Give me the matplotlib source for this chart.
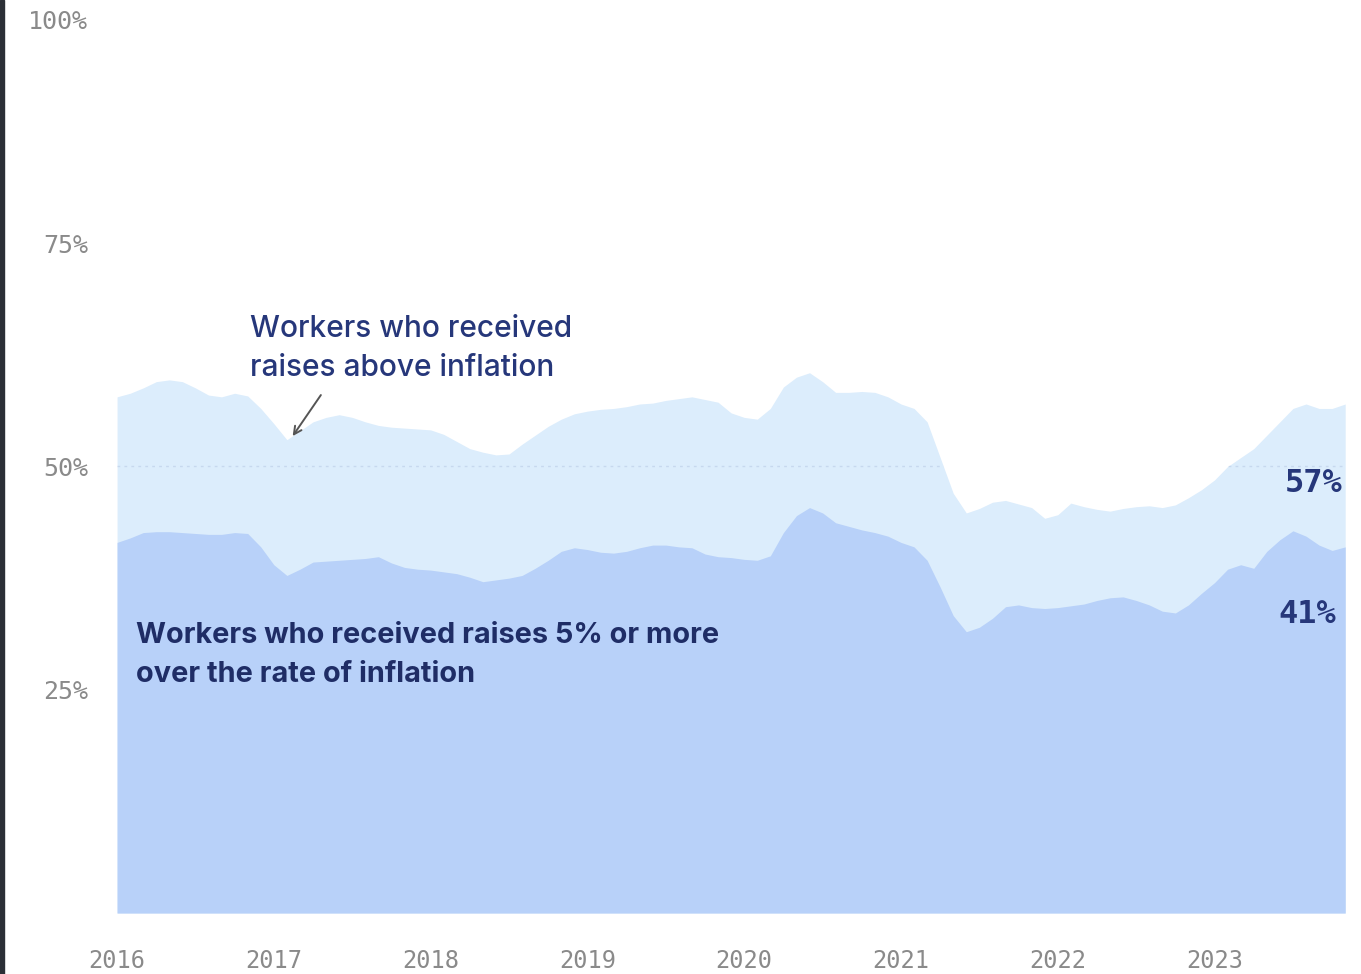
import numpy as np
import matplotlib
matplotlib.use("Agg")
import matplotlib.pyplot as plt
from matplotlib.patches import Rectangle

# Monthly share of workers, Jan 2016 - Nov 2023 (percent)
above_inflation = [
    57.8, 58.2, 58.8, 59.5, 59.7, 59.5, 58.8, 58.0, 57.8, 58.2, 57.9, 56.5,
    54.8, 53.0, 54.0, 55.0, 55.5, 55.8, 55.5, 55.0, 54.6, 54.4, 54.3, 54.2,
    54.1, 53.6, 52.8, 52.0, 51.6, 51.3, 51.4, 52.5, 53.5, 54.5, 55.3, 55.9,
    56.2, 56.4, 56.5, 56.7, 57.0, 57.1, 57.4, 57.6, 57.8, 57.5, 57.2, 56.0,
    55.5, 55.3, 56.5, 58.9, 60.0, 60.5, 59.5, 58.3, 58.3, 58.4, 58.3, 57.8,
    57.0, 56.5, 55.0, 51.0, 47.0, 44.8, 45.3, 46.0, 46.2, 45.8, 45.4, 44.2,
    44.6, 45.9, 45.5, 45.2, 45.0, 45.3, 45.5, 45.6, 45.4, 45.7, 46.5, 47.4,
    48.5, 50.0, 51.0, 52.0, 53.5, 55.0, 56.5, 57.0, 56.5, 56.5, 57.0,
]
five_pct_over = [
    41.5, 42.0, 42.6, 42.7, 42.7, 42.6, 42.5, 42.4, 42.4, 42.6, 42.5, 41.0,
    39.0, 37.8, 38.5, 39.3, 39.4, 39.5, 39.6, 39.7, 39.9, 39.2, 38.7, 38.5,
    38.4, 38.2, 38.0, 37.6, 37.1, 37.3, 37.5, 37.8, 38.6, 39.5, 40.5, 40.9,
    40.7, 40.4, 40.3, 40.5, 40.9, 41.2, 41.2, 41.0, 40.9, 40.2, 39.9, 39.8,
    39.6, 39.5, 40.0, 42.6, 44.5, 45.4, 44.8, 43.7, 43.3, 42.9, 42.6, 42.2,
    41.5, 41.0, 39.5, 36.5, 33.3, 31.5, 32.0, 33.0, 34.3, 34.5, 34.2, 34.1,
    34.2, 34.4, 34.6, 35.0, 35.3, 35.4, 35.0, 34.5, 33.8, 33.6, 34.5, 35.8,
    37.0, 38.5, 39.0, 38.6, 40.5, 41.8, 42.8, 42.2, 41.2, 40.6, 41.0,
]
year_ticks = [2016, 2017, 2018, 2019, 2020, 2021, 2022, 2023]
pct_ticks = [25, 50, 75, 100]

start_year = 2016
t = start_year + np.arange(len(above_inflation)) / 12.0

NAVY = "#26377a"
GREY = "#8a8a8a"
UPPER_FILL = "#dcedfc"
LOWER_FILL = "#b8d1f9"

fig = plt.figure(figsize=(13.61, 9.74), dpi=100)
ax = fig.add_axes([0.086, 0.0626, 0.9024, 0.9169])

upper = ax.fill_between(t, 0, above_inflation, color=UPPER_FILL, lw=0, zorder=1)
ax.fill_between(t, 0, five_pct_over, color=LOWER_FILL, lw=0, zorder=2)

# faint dotted gridline, visible only inside the shaded area
grid = ax.axhline(50, color="#b9cbe6", lw=1.0, ls=(0, (2, 3)), alpha=0.6, zorder=3)
grid.set_clip_path(upper.get_paths()[0], ax.transData)

ax.set_xlim(t[0], t[-1])
ax.set_ylim(0, 100)
ax.set_xticks(year_ticks)
ax.set_xticklabels([str(y) for y in year_ticks])
ax.set_yticks(pct_ticks)
ax.set_yticklabels([f"{p}%" for p in pct_ticks])
for s in ax.spines.values():
    s.set_visible(False)
ax.tick_params(axis="y", length=0, colors=GREY, labelsize=18, pad=21)
ax.tick_params(axis="x", length=0, colors=GREY, labelsize=17, pad=26)
for lab in ax.get_xticklabels() + ax.get_yticklabels():
    lab.set_fontfamily("DejaVu Sans Mono")
    lab.set_color(GREY)

# Series annotations
ax.text(2016 + 133 / 156.7, 63.2, "Workers who received\nraises above inflation",
        fontfamily="Inter", fontweight="medium", fontsize=21.5, color=NAVY,
        ha="left", va="center", linespacing=1.47, zorder=5)
ax.annotate("", xy=(2017.12, 53.4), xytext=(2017.3, 58.0),
            arrowprops=dict(arrowstyle="->", color="#555555", lw=1.4,
                            mutation_scale=14, shrinkA=0, shrinkB=0), zorder=5)
ax.text(2016 + 19 / 156.7, 28.9, "Workers who received raises 5% or more\nover the rate of inflation",
        fontfamily="Inter", fontweight="bold", fontsize=20.8, color="#1f2d66",
        ha="left", va="center", linespacing=1.55, zorder=5)

# End-of-series values
ax.text(t[-1] - 0.02, 48.1, f"{above_inflation[-1]:.0f}%", fontfamily="DejaVu Sans Mono",
        fontweight="bold", fontsize=23, color=NAVY, ha="right", va="center", zorder=5)
ax.text(t[-1] - 0.06, 33.4, f"{five_pct_over[-1]:.0f}%", fontfamily="DejaVu Sans Mono",
        fontweight="bold", fontsize=23, color=NAVY, ha="right", va="center", zorder=5)

# Thin dark frame edge on the left
fig.patches.append(Rectangle((0, 0), 0.003, 1, transform=fig.transFigure,
                             color="#2b2f36", zorder=10))

fig.savefig("out.png", dpi=100)
